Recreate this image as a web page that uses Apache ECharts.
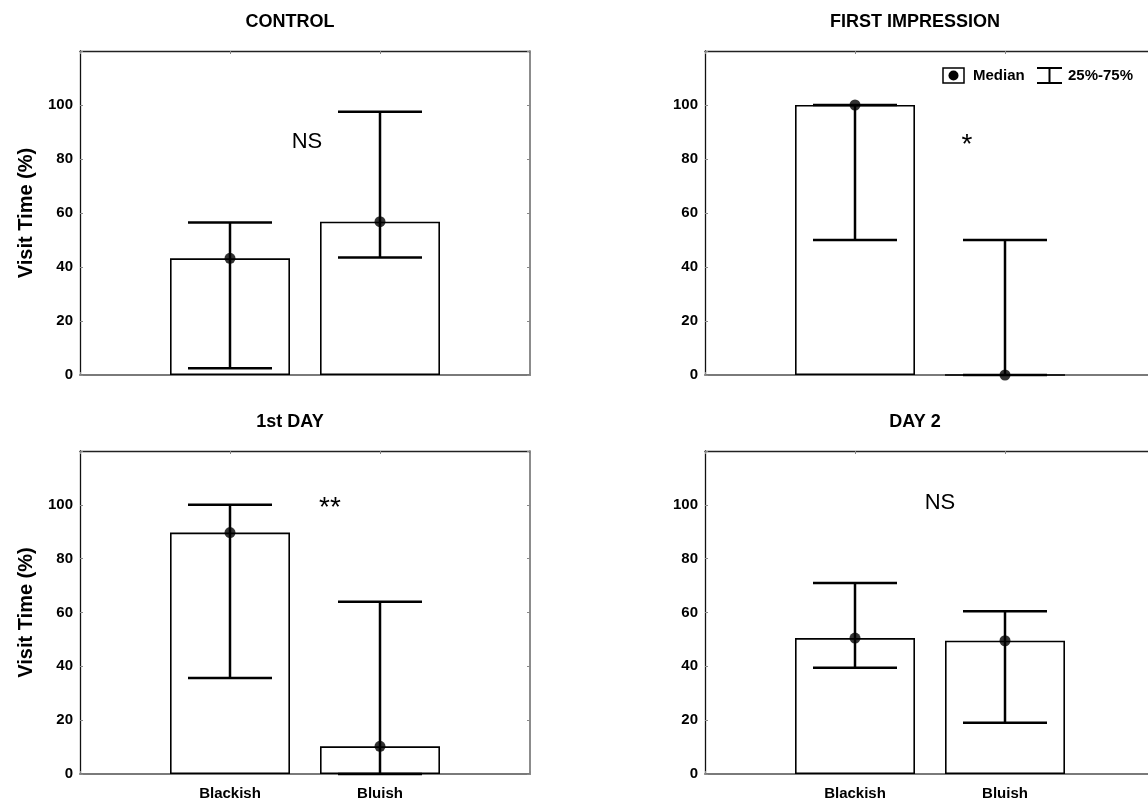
<!DOCTYPE html>
<html>
<head>
<meta charset="utf-8">
<script src="https://cdn.jsdelivr.net/npm/echarts@6/dist/echarts.min.js"></script>
<style>
  html, body { margin: 0; padding: 0; background: #fff; }
  #chart { width: 1148px; height: 804px; }
</style>
</head>
<body>
<div id="chart"></div>
<script>
// Visit time (%) per colour morph: median with 25%-75% range, four conditions
const categories = ['Blackish', 'Bluish'];
const panelTitles = ['CONTROL', 'FIRST IMPRESSION', '1st DAY', 'DAY 2'];
const significance = ['NS', '*', '**', 'NS'];
const yTicks = [0, 20, 40, 60, 80, 100, 120];

const controlMedian = [43.2, 56.8];
const controlQ25 = [2.5, 43.5];
const controlQ75 = [56.5, 97.5];

const firstImpressionMedian = [100, 0];
const firstImpressionQ25 = [50, 0];
const firstImpressionQ75 = [100, 50];

const day1Median = [89.7, 10.3];
const day1Q25 = [35.7, 0];
const day1Q75 = [100, 64];

const day2Median = [50.5, 49.5];
const day2Q25 = [39.5, 19];
const day2Q75 = [71, 60.5];

const panels = [
  { median: controlMedian, q25: controlQ25, q75: controlQ75 },
  { median: firstImpressionMedian, q25: firstImpressionQ25, q75: firstImpressionQ75 },
  { median: day1Median, q25: day1Q25, q75: day1Q75 },
  { median: day2Median, q25: day2Q25, q75: day2Q75 }
];

const FONT = 'Liberation Sans, Arial, sans-serif';
const gridBoxes = [
  { left: 80, top: 51, width: 450, height: 324 },
  { left: 705, top: 51, width: 450, height: 324 },
  { left: 80, top: 451, width: 450, height: 323 },
  { left: 705, top: 451, width: 450, height: 323 }
];

const grid = [], xAxis = [], yAxis = [], series = [];

gridBoxes.forEach((g, i) => {
  grid.push(Object.assign({ containLabel: false, outerBoundsMode: 'none' }, g));
  const bottomRow = i >= 2;
  const leftCol = i % 2 === 0;
  // category positions 1 and 2 on a 0..3 scale
  xAxis.push({
    type: 'value', gridIndex: i, min: 0, max: 3, interval: 1, position: 'bottom',
    axisLine: { show: true, onZero: false, lineStyle: { color: '#7a7a7a', width: 2 } },
    axisTick: { show: true, inside: true, length: 3, lineStyle: { color: '#888' } },
    axisLabel: {
      show: bottomRow, margin: 12,
      color: '#000', fontFamily: FONT, fontWeight: 'bold', fontSize: 15,
      formatter: v => categories[v - 1] || ''
    },
    splitLine: { show: false }
  });
  xAxis.push({
    type: 'value', gridIndex: i, min: 0, max: 3, interval: 1, position: 'top',
    axisLine: { show: true, onZero: false, lineStyle: { color: '#222', width: 1.3 } },
    axisTick: { show: true, inside: true, length: 3, lineStyle: { color: '#888' } },
    axisLabel: { show: false },
    splitLine: { show: false }
  });
  yAxis.push({
    type: 'value', gridIndex: i, min: 0, max: 120, interval: 20, position: 'left',
    name: leftCol ? 'Visit Time (%)' : '',
    nameLocation: 'middle', nameGap: 44,
    nameTextStyle: { color: '#000', fontFamily: FONT, fontWeight: 'bold', fontSize: 20 },
    axisLine: { show: true, onZero: false, lineStyle: { color: '#111', width: 1.3 } },
    axisTick: { show: true, inside: true, length: 3, lineStyle: { color: '#888' } },
    axisLabel: {
      color: '#000', fontFamily: FONT, fontWeight: 'bold', fontSize: 15, margin: 7,
      formatter: v => (yTicks.indexOf(v) >= 0 && v <= 100 ? String(v) : '')
    },
    splitLine: { show: false }
  });
  yAxis.push({
    type: 'value', gridIndex: i, min: 0, max: 120, interval: 20, position: 'right',
    axisLine: { show: true, onZero: false, lineStyle: { color: '#666', width: 1.5 } },
    axisTick: { show: true, inside: true, length: 3, lineStyle: { color: '#888' } },
    axisLabel: { show: false },
    splitLine: { show: false }
  });

  const p = panels[i];
  const xi = 2 * i, yi = 2 * i;

  series.push({
    type: 'bar', xAxisIndex: xi, yAxisIndex: yi, barWidth: 120, z: 2,
    itemStyle: { color: '#fff', borderColor: '#000', borderWidth: 1.6 },
    data: p.median.map((m, k) => [k + 1, m]),
    silent: true, animation: false
  });

  series.push({
    type: 'custom', xAxisIndex: xi, yAxisIndex: yi, z: 3,
    encode: { x: 0, y: [1, 2] },
    data: p.q25.map((lo, k) => [k + 1, lo, p.q75[k]]),
    renderItem: (params, api) => {
      const x = api.value(0);
      const lo = api.coord([x, api.value(1)]);
      const hi = api.coord([x, api.value(2)]);
      const half = 42;
      const st = { stroke: '#000', lineWidth: 2.5 };
      return {
        type: 'group',
        children: [
          { type: 'line', shape: { x1: lo[0], y1: lo[1], x2: hi[0], y2: hi[1] }, style: st },
          { type: 'line', shape: { x1: lo[0] - half, y1: lo[1], x2: lo[0] + half, y2: lo[1] }, style: st },
          { type: 'line', shape: { x1: hi[0] - half, y1: hi[1], x2: hi[0] + half, y2: hi[1] }, style: st }
        ]
      };
    },
    silent: true, animation: false
  });

  series.push({
    type: 'scatter', xAxisIndex: xi, yAxisIndex: yi, z: 4,
    symbol: 'circle', symbolSize: 11,
    itemStyle: { color: '#000' },
    data: p.median.map((m, k) => [k + 1, m]),
    silent: true, animation: false
  });
});

const titleStyle = { fill: '#000', font: 'bold 18px ' + FONT, textAlign: 'center', textVerticalAlign: 'middle' };

const titleCenters = [[290, 22], [915, 22], [290, 422], [915, 422]];
// significance marks: centre and font
const sigMarks = [
  { x: 307, y: 142, font: '22px ' + FONT },
  { x: 967, y: 145, font: '28px ' + FONT },
  { x: 330, y: 508, font: '28px ' + FONT },
  { x: 940, y: 503, font: '22px ' + FONT }
];

const graphic = [];
panelTitles.forEach((t, i) => {
  graphic.push({ type: 'text', x: titleCenters[i][0], y: titleCenters[i][1], style: Object.assign({ text: t }, titleStyle) });
  const s = sigMarks[i];
  graphic.push({
    type: 'text', x: s.x, y: s.y,
    style: { text: significance[i], fill: '#000', font: s.font, textAlign: 'center', textVerticalAlign: 'middle' }
  });
});

// legend box: median marker and quartile range marker
const ly = 76;
graphic.push(
  { type: 'rect', shape: { x: 943, y: ly - 8, width: 21, height: 15 }, style: { fill: '#fff', stroke: '#000', lineWidth: 1.5 } },
  { type: 'circle', shape: { cx: 953.5, cy: ly - 0.5, r: 5 }, style: { fill: '#000' } },
  { type: 'text', x: 973, y: ly, style: { text: 'Median', fill: '#000', font: 'bold 15px ' + FONT, textVerticalAlign: 'middle' } },
  { type: 'line', shape: { x1: 1037, y1: ly - 8, x2: 1062, y2: ly - 8 }, style: { stroke: '#000', lineWidth: 2 } },
  { type: 'line', shape: { x1: 1049.5, y1: ly - 8, x2: 1049.5, y2: ly + 7 }, style: { stroke: '#000', lineWidth: 2 } },
  { type: 'line', shape: { x1: 1037, y1: ly + 7, x2: 1062, y2: ly + 7 }, style: { stroke: '#000', lineWidth: 2 } },
  { type: 'text', x: 1068, y: ly, style: { text: '25%-75%', fill: '#000', font: 'bold 15px ' + FONT, textVerticalAlign: 'middle' } }
);

const chart = echarts.init(document.getElementById('chart'), null, { renderer: 'canvas' });
chart.setOption({
  backgroundColor: '#fff',
  animation: false,
  grid, xAxis, yAxis, series, graphic
});
</script>
</body>
</html>
